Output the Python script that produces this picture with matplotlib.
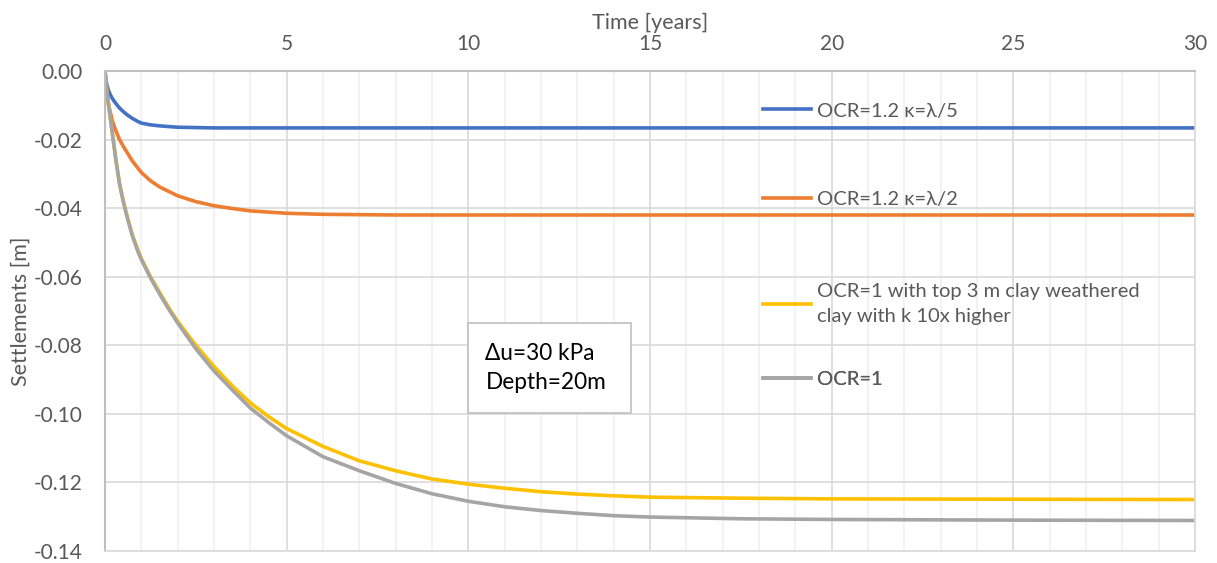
import matplotlib
matplotlib.use("Agg")
import matplotlib.pyplot as plt
from matplotlib.patches import Rectangle

plt.rcParams['font.family'] = ['Lato', 'DejaVu Sans']

# time [years] and settlements [m]
t_blue = [0, 0.02, 0.05, 0.1, 0.15, 0.2, 0.3, 0.4, 0.5, 0.6, 0.75, 0.9, 1, 1.25,
          1.5, 2, 2.5, 3, 5, 10, 20, 30]
s_blue = [0, -0.0022, -0.0040, -0.0058, -0.0070, -0.0080, -0.0095, -0.0108,
          -0.0118, -0.0127, -0.0138, -0.0147, -0.0152, -0.0157, -0.0160,
          -0.0164, -0.0165, -0.0166, -0.0166, -0.0166, -0.0166, -0.0166]

t_orange = [0, 0.05, 0.1, 0.2, 0.3, 0.4, 0.5, 0.75, 1, 1.25, 1.5, 2, 2.5, 3, 3.5,
            4, 5, 6, 8, 10, 20, 30]
s_orange = [0, -0.0065, -0.0100, -0.0145, -0.0175, -0.0200, -0.0219, -0.0262,
            -0.0296, -0.0320, -0.0338, -0.0364, -0.0381, -0.0393, -0.0401,
            -0.0408, -0.0415, -0.0418, -0.0420, -0.0420, -0.0420, -0.0420]

t_long = [0, 0.05, 0.1, 0.2, 0.3, 0.4, 0.5, 0.6, 0.75, 0.9, 1, 1.25, 1.5, 1.75,
          2, 2.5, 3, 3.5, 4, 4.5, 5, 6, 7, 8, 9, 10, 11, 12, 13, 14, 15, 17.5,
          20, 25, 30]
s_yellow = [0, -0.006, -0.010, -0.018, -0.0258, -0.0328, -0.0377, -0.0420,
            -0.0477, -0.0520, -0.0547, -0.0600, -0.0645, -0.0690, -0.0730,
            -0.0800, -0.0862, -0.0918, -0.0968, -0.1008, -0.1043, -0.1095,
            -0.1137, -0.1166, -0.1190, -0.1205, -0.1217, -0.1227, -0.1234,
            -0.1239, -0.1243, -0.1246, -0.1248, -0.1249, -0.1250]
s_gray = [0, -0.006, -0.010, -0.018, -0.026, -0.033, -0.038, -0.0423, -0.048,
          -0.0525, -0.055, -0.0603, -0.065, -0.0694, -0.0735, -0.081, -0.0875,
          -0.093, -0.0983, -0.1025, -0.1064, -0.1125, -0.1166, -0.1203,
          -0.1233, -0.1255, -0.1271, -0.1282, -0.1290, -0.1297, -0.1301,
          -0.1306, -0.1308, -0.1310, -0.1311]

labels = ["OCR=1.2 κ=λ/5", "OCR=1.2 κ=λ/2",
          "OCR=1 with top 3 m clay weathered\nclay with k 10x higher", "OCR=1"]
colors = ["#4472C4", "#ED7D31", "#FFC000", "#A5A5A5"]
legend_y = [0.9167, 0.7333, 0.5146, 0.3583]

txtc = "#595959"
fig = plt.figure(figsize=(12.17, 5.63), dpi=100)
ax = fig.add_axes([105/1217, 12/563, 1090/1217, 480/563])

lines = []
lines += ax.plot(t_blue, s_blue, color=colors[0], lw=2.6)
lines += ax.plot(t_orange, s_orange, color=colors[1], lw=2.6)
lines += ax.plot(t_long, s_yellow, color=colors[2], lw=2.6)
lines += ax.plot(t_long, s_gray, color=colors[3], lw=2.6)

ax.set_xlim(0, 30)
ax.set_ylim(-0.14, 0)
ax.set_xticks(range(0, 31, 5))
ax.set_xticks(range(0, 31), minor=True)
ax.set_yticks([-0.14, -0.12, -0.10, -0.08, -0.06, -0.04, -0.02, 0.0])
ax.set_yticklabels([f"{v:.2f}" for v in ax.get_yticks()])
ax.xaxis.tick_top()
ax.xaxis.set_label_position('top')
ax.tick_params(axis='both', which='both', length=0, labelsize=15, colors=txtc)
ax.tick_params(axis='x', pad=12)
ax.tick_params(axis='y', pad=16)
ax.grid(which='major', color='#d9d9d9', lw=1.2)
ax.grid(which='minor', axis='x', color='#f0f0f0', lw=1.2)
ax.set_axisbelow(True)
for side in ['left', 'top']:
    ax.spines[side].set_color('#bfbfbf')
    ax.spines[side].set_linewidth(1.5)
for side in ['right', 'bottom']:
    ax.spines[side].set_color('#d9d9d9')
    ax.spines[side].set_linewidth(1.2)

ax.set_xlabel("Time [years]", fontsize=15.5, color=txtc, labelpad=4)
ax.set_ylabel("Settlements [m]", fontsize=15.5, color=txtc, labelpad=2)

# one legend per entry so the entries sit where the reference has them
for ln, lab, yy in zip(lines, labels, legend_y):
    leg = ax.legend([ln], [lab], loc='center left', bbox_to_anchor=(0.6037, yy),
                    frameon=False, fontsize=14.5, handlelength=2.4,
                    handletextpad=0.3, borderpad=0, borderaxespad=0)
    for txt in leg.get_texts():
        txt.set_color(txtc)
        txt.set_linespacing(1.55)
    ax.add_artist(leg)

ax.add_patch(Rectangle((0.333, 0.2875), 0.15, 0.1875, transform=ax.transAxes,
                       facecolor='white', edgecolor='#bfbfbf', lw=1.2, zorder=5))
ax.text(0.349, 0.381, "Δu=30 kPa\nDepth=20m", transform=ax.transAxes,
        fontsize=16.3, color='black', va='center', ha='left', linespacing=1.45,
        zorder=6)

fig.savefig("out.png", dpi=100)
